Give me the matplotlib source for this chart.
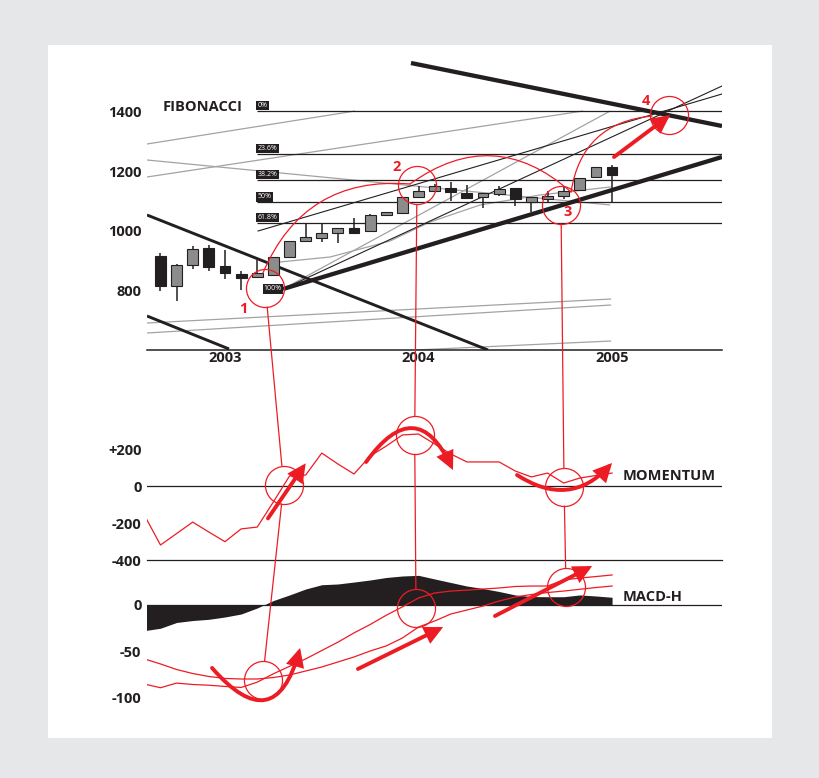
import matplotlib
matplotlib.use('Agg')
import matplotlib.pyplot as plt
from matplotlib.patches import Rectangle, ConnectionPatch
import pandas as pd

plt.rcParams['font.family'] = ['Open Sans', 'DejaVu Sans']

RED = '#ed1c24'
BLACK = '#231f20'
GRAY = '#a3a3a3'
CANDLE_GRAY = '#8c8c8c'

# ---------------- data ----------------
candle_months = pd.period_range('2002-09', '2005-01', freq='M')
opens  = [917, 817, 888, 944, 883, 857, 846, 853, 914, 967, 978, 992, 1011, 1001, 1052,
          1061, 1114, 1133, 1144, 1128, 1112, 1122, 1143, 1098, 1106, 1118, 1137, 1179, 1214]
highs  = [926, 890, 950, 953, 937, 868, 903, 914, 968, 1022, 1022, 1011, 1044, 1058, 1063,
          1113, 1150, 1157, 1164, 1153, 1126, 1149, 1143, 1112, 1133, 1149, 1176, 1214, 1219]
lows   = [801, 768, 874, 868, 840, 803, 843, 853, 914, 967, 964, 961, 990, 1001, 1052,
          1057, 1114, 1133, 1101, 1109, 1076, 1116, 1083, 1064, 1096, 1106, 1137, 1179, 1098]
closes = [817, 888, 939, 881, 859, 843, 859, 914, 968, 981, 994, 1011, 994, 1053, 1063,
          1113, 1133, 1150, 1131, 1109, 1126, 1141, 1106, 1112, 1118, 1133, 1176, 1214, 1187]

fib_labels = ['0%', '23.6%', '38.2%', '50%', '61.8%']
fib_prices = [1400, 1257, 1170, 1096, 1028]
fib_low_label = '100%'
fib_low = (2003.300, 806.7)
fib_start = 2003.165

# trend lines: (year0, price0, year1, price1)
thick_lines = [(2003.300, 806.7, 2005.568, 1246.7),
               (2003.961, 1560.0, 2005.568, 1350.0)]
medium_lines = [(2002.597, 1053.3, 2004.359, 603.3),
                (2002.597, 716.7, 2003.021, 606.7)]
thin_black_lines = [(2003.171, 1000.0, 2005.568, 1456.7),
                    (2003.300, 806.7, 2005.568, 1483.3)]
gray_lines = [(2003.300, 806.7, 2004.990, 1400.0),
              (2002.597, 1290.0, 2003.672, 1400.0),
              (2002.597, 1180.0, 2004.850, 1400.0),
              (2002.597, 1236.7, 2004.990, 1086.7),
              (2002.597, 693.3, 2004.995, 773.3),
              (2002.597, 660.0, 2004.995, 753.3),
              (2003.982, 603.3, 2004.995, 633.3)]
ma_years = [2003.284, 2003.543, 2003.853, 2004.059, 2004.318, 2004.628, 2004.990]
ma_prices = [896.7, 913.3, 966.7, 1030.0, 1086.7, 1120.0, 1146.7]

price_ticks = [800, 1000, 1200, 1400]
year_ticks = [2003, 2004, 2005]

ind_months = pd.period_range('2002-08', '2005-01', freq='M')
momentum = [-157, -319, -257, -195, -249, -301, -232, -222, -86, 54, 59, 178, 119, 65, 162,
            216, 276, 281, 227, 173, 130, 130, 130, 81, 49, 70, 16, 43, 57, 70]
macd_hist = [-27.6, -25, -18.8, -16.7, -15.4, -12.9, -9.7, -3.2, 4.8, 10.8, 17.2, 21.8, 22.6,
             24.7, 26.9, 29.6, 31.2, 31.9, 28, 24.2, 20.4, 17.7, 14.5, 10.8, 9.1, 8.9, 8.9,
             10.8, 9.7, 8.3]
macd_line = [-85, -89, -84, -85.5, -86.3, -87.6, -88.7, -83, -74, -66, -58, -49, -40, -30,
             -21, -11, -2, 7.5, 12.9, 15, 16, 17.2, 18.3, 19.9, 20.4, 20.4, 26.9, 29, 30.6, 32.3]
signal_line = [-58, -63.4, -69.4, -73.7, -76.9, -79, -79.6, -79.6, -78, -75.3, -71, -66.7,
               -61.3, -55.9, -49.5, -44, -35.5, -23.7, -17.2, -9.7, -5.4, -1.1, 4.3, 8.6,
               11.3, 13.4, 15, 16.9, 18.8, 20.4]
mom_ticks = [200, 0, -200, -400]
mom_ticklabels = ['+200', '0', '-200', '-400']
macd_ticks = [0, -50, -100]
macd_ticklabels = ['0', '-50', '-100']

# annotations (data coordinates of each panel)
top_circles = [(2003.209, 810), (2003.992, 1151.7), (2004.736, 1087.7), (2005.295, 1388.3)]
top_numbers = ['1', '2', '3', '4']
top_number_pos = [(2003.093, 740), (2003.889, 1213.3), (2004.773, 1063.3), (2005.176, 1433.3)]
top_arcs = [((2003.196, 860), (2003.956, 1156.7), -0.36),
            ((2003.956, 1156.7), (2004.788, 1130), -0.40),
            ((2004.788, 1130), (2005.207, 1383.3), -0.39)]
top_arrow = ((2005.010, 1246.7), (2005.300, 1386.7))
mom_circles = [(2003.303, 5.4), (2003.980, 274), (2004.752, -5.4)]
macd_circles = [(2003.194, -80.6), (2003.987, -3.2), (2004.762, 19.7)]
mom_arrows = [((2003.222, -175), (2003.417, 122.7), 0.0),
              ((2003.729, 129.7), (2004.178, 86.5), -0.85),
              ((2004.509, 59.5), (2005.0, 124.3), 0.42)]
macd_arrows = [((2002.933, -67.7), (2003.388, -46.2), 0.93),
               ((2003.687, -68.8), (2004.127, -23.7), 0.0),
               ((2004.395, -11.8), (2004.897, 41.9), 0.0)]

# ---------------- figure ----------------
W, H = 819, 778
fig = plt.figure(figsize=(W / 100, H / 100), dpi=100, facecolor='#e6e7e8')
fig.patches.append(Rectangle((48 / W, 40 / H), 724 / W, 693 / H, transform=fig.transFigure,
                             facecolor='white', edgecolor='none', zorder=-10))

def dec_year(periods):
    return [p.year + (p.month - 1) / 12 for p in periods]

cx = dec_year(candle_months)
ix = dec_year(ind_months)
XLIM = (2002.597, 2005.568)

ax = fig.add_axes([147 / W, 428 / H, 575 / W, 295 / H])
axm = fig.add_axes([147 / W, 218 / H, 575 / W, 160 / H])
axd = fig.add_axes([147 / W, 58 / H, 575 / W, 160 / H])
for a in (ax, axm, axd):
    a.set_facecolor('none')
    a.set_xlim(*XLIM)
    for s in a.spines.values():
        s.set_visible(False)
    a.tick_params(length=0, labelsize=10.5, labelcolor=BLACK)

ax.set_ylim(603.3, 1586.7)
axm.set_ylim(-400, 464.9)
axd.set_ylim(-123.7, 48.4)

# ---- price panel ----
ax.spines['bottom'].set_visible(True)
ax.spines['bottom'].set_color(BLACK)
ax.spines['bottom'].set_linewidth(1.1)
ax.set_xticks(year_ticks)
ax.set_xticklabels([str(y) for y in year_ticks], fontweight='bold')
ax.tick_params(axis='x', pad=1)
ax.set_yticks(price_ticks)
ax.set_yticklabels([str(p) for p in price_ticks], fontweight='bold')
ax.tick_params(axis='y', pad=4)

ax.hlines(fib_prices, fib_start, XLIM[1], color=BLACK, lw=0.9, zorder=2)
for lab, p in zip(fib_labels, fib_prices):
    ax.text(fib_start + 0.004, p + 6, lab, fontsize=5, color='white', ha='left', va='bottom',
            bbox=dict(boxstyle='square,pad=0.18', fc=BLACK, ec='none'), zorder=6)
ax.text(fib_low[0] - 0.006, fib_low[1], fib_low_label, fontsize=5, color='white',
        ha='right', va='center',
        bbox=dict(boxstyle='square,pad=0.18', fc=BLACK, ec='none'), zorder=6)

for (x0, y0, x1, y1) in gray_lines:
    ax.plot([x0, x1], [y0, y1], color=GRAY, lw=0.9, zorder=1, solid_capstyle='butt')
ax.plot(ma_years, ma_prices, color=GRAY, lw=0.9, zorder=1)
for (x0, y0, x1, y1) in thin_black_lines:
    ax.plot([x0, x1], [y0, y1], color=BLACK, lw=0.8, zorder=2)
for (x0, y0, x1, y1) in medium_lines:
    ax.plot([x0, x1], [y0, y1], color=BLACK, lw=2.1, zorder=2, solid_capstyle='butt')
for (x0, y0, x1, y1) in thick_lines:
    ax.plot([x0, x1], [y0, y1], color=BLACK, lw=3.1, zorder=3, solid_capstyle='butt')

for x, o, h, l, c in zip(cx, opens, highs, lows, closes):
    col = CANDLE_GRAY if c >= o else BLACK
    ax.vlines(x, l, h, color=BLACK, lw=1.1, zorder=4)
    ax.bar(x, max(abs(c - o), 3), bottom=min(o, c), width=0.056, color=col,
           edgecolor=BLACK, lw=0.8, zorder=5)

ax.text(2002.680, 1413, 'FIBONACCI', fontsize=10.5, fontweight='bold', color=BLACK,
        ha='left', va='center')

# ---- momentum panel ----
axm.set_xticks([])
axm.set_yticks(mom_ticks)
axm.set_yticklabels(mom_ticklabels, fontweight='bold')
axm.tick_params(axis='y', pad=4)
axm.axhline(0, color=BLACK, lw=0.9, zorder=2)
axm.axhline(-400, color=BLACK, lw=0.9, zorder=2, clip_on=False)
axm.plot(ix, momentum, color=RED, lw=0.9, zorder=3)
axm.text(2005.052, 54, 'MOMENTUM', fontsize=10.5, fontweight='bold', color=BLACK,
         ha='left', va='center')

# ---- MACD panel ----
axd.set_xticks([])
axd.set_yticks(macd_ticks)
axd.set_yticklabels(macd_ticklabels, fontweight='bold')
axd.tick_params(axis='y', pad=4)
axd.fill_between(ix, 0, macd_hist, color=BLACK, lw=0, zorder=1)
axd.axhline(0, color=BLACK, lw=0.9, zorder=2)
axd.plot(ix, macd_line, color=RED, lw=0.9, zorder=3)
axd.plot(ix, signal_line, color=RED, lw=0.9, zorder=3)
axd.text(2005.052, 8.6, 'MACD-H', fontsize=10.5, fontweight='bold', color=BLACK,
         ha='left', va='center')

# ---- annotations ----
CIRC_MS = 27.4        # marker diameter in points (~38 px)
R_PT = CIRC_MS / 2
def circles(a, pts):
    for (x, y) in pts:
        a.plot([x], [y], marker='o', ms=CIRC_MS, mfc='none', mec=RED, mew=0.9,
               zorder=8, clip_on=False)

circles(ax, top_circles)
circles(axm, mom_circles)
circles(axd, macd_circles)

for t, (x, y) in zip(top_numbers, top_number_pos):
    ax.text(x, y, t, color=RED, fontsize=10.5, fontweight='bold', ha='center', va='center',
            zorder=9)

for (p0, p1, rad) in top_arcs:
    ax.annotate('', xy=p1, xytext=p0,
                arrowprops=dict(arrowstyle='-', color=RED, lw=0.9,
                                connectionstyle=f'arc3,rad={rad}', shrinkA=0, shrinkB=0),
                zorder=8, annotation_clip=False)

ARROW = '-|>,head_length=0.65,head_width=0.32'
def thick_arrow(a, p0, p1, rad):
    a.annotate('', xy=p1, xytext=p0,
               arrowprops=dict(arrowstyle=ARROW, color=RED, lw=2.8, mutation_scale=14,
                               connectionstyle=f'arc3,rad={rad}', shrinkA=0, shrinkB=0,
                               joinstyle='miter'),
               zorder=9, annotation_clip=False)

thick_arrow(ax, top_arrow[0], top_arrow[1], 0.0)
for (p0, p1, rad) in mom_arrows:
    thick_arrow(axm, p0, p1, rad)
for (p0, p1, rad) in macd_arrows:
    thick_arrow(axd, p0, p1, rad)

for i in range(3):
    for (aA, pA, aB, pB) in [(ax, top_circles[i], axm, mom_circles[i]),
                             (axm, mom_circles[i], axd, macd_circles[i])]:
        con = ConnectionPatch(xyA=pA, coordsA=aA.transData, xyB=pB, coordsB=aB.transData,
                              color=RED, lw=0.9, shrinkA=R_PT, shrinkB=R_PT, zorder=8)
        fig.add_artist(con)

fig.savefig('out.png', dpi=100, facecolor=fig.get_facecolor())
